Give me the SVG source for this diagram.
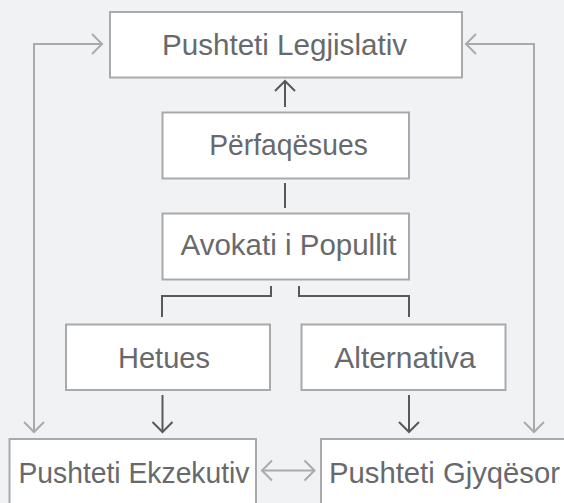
<svg xmlns="http://www.w3.org/2000/svg" width="564" height="503" viewBox="0 0 564 503">
  <defs>
    <style>
      .box { fill: #ffffff; stroke: #a9aaac; stroke-width: 2; }
      .lbl { font-family: "Liberation Sans", Arial, sans-serif; font-size: 30px; fill: #68696c; text-anchor: middle; }
      .dark { fill: none; stroke: #58595b; stroke-width: 2; }
      .light { fill: none; stroke: #a9aaac; stroke-width: 2; }
    </style>
    <marker id="chev-dark" viewBox="-12 -12 14 24" markerWidth="14" markerHeight="24" refX="0" refY="0" orient="auto-start-reverse" markerUnits="userSpaceOnUse">
      <path d="M-10,-10 L0,0 L-10,10" fill="none" stroke="#58595b" stroke-width="2"/>
    </marker>
    <marker id="chev-light" viewBox="-12 -12 14 24" markerWidth="14" markerHeight="24" refX="0" refY="0" orient="auto-start-reverse" markerUnits="userSpaceOnUse">
      <path d="M-10,-10 L0,0 L-10,10" fill="none" stroke="#a9aaac" stroke-width="2"/>
    </marker>
  </defs>

  <rect width="564" height="503" fill="#f1f2f4"/>

  <g id="connectors">
    <!-- Përfaqësues up to the legislature -->
    <line class="dark" x1="285" y1="107" x2="285" y2="81" marker-end="url(#chev-dark)"/>
    <line class="dark" x1="285" y1="183" x2="285" y2="208"/>
    <!-- split below Avokati i Popullit -->
    <polyline class="dark" points="271,286 271,296 162,296 162,317"/>
    <polyline class="dark" points="299,286 299,296 409,296 409,317"/>
    <line class="dark" x1="162.5" y1="395" x2="162.5" y2="432" marker-end="url(#chev-dark)"/>
    <line class="dark" x1="409" y1="395" x2="409" y2="432" marker-end="url(#chev-dark)"/>
    <!-- outer loops between the branches -->
    <polyline class="light" points="102,44 34,44 34,432" marker-start="url(#chev-light)" marker-end="url(#chev-light)"/>
    <polyline class="light" points="466,44 534,44 534,432" marker-start="url(#chev-light)" marker-end="url(#chev-light)"/>
    <line class="light" x1="262" y1="470.5" x2="314.5" y2="470.5" marker-start="url(#chev-light)" marker-end="url(#chev-light)"/>
  </g>

  <g id="legjislativ">
    <rect class="box" x="110" y="12" width="352" height="65.5"/>
    <text class="lbl" x="284.5" y="54.5" textLength="245" lengthAdjust="spacingAndGlyphs">Pushteti Legjislativ</text>
  </g>
  <g id="perfaqesues">
    <rect class="box" x="162.5" y="112.5" width="246.5" height="66"/>
    <text class="lbl" x="288.5" y="155" textLength="158.5" lengthAdjust="spacingAndGlyphs">Përfaqësues</text>
  </g>
  <g id="avokati">
    <rect class="box" x="162.5" y="213.5" width="246.5" height="66"/>
    <text class="lbl" x="288.5" y="255" textLength="216" lengthAdjust="spacingAndGlyphs">Avokati i Popullit</text>
  </g>
  <g id="hetues">
    <rect class="box" x="66" y="324.5" width="204" height="65.5"/>
    <text class="lbl" x="164" y="367.5" textLength="92" lengthAdjust="spacingAndGlyphs">Hetues</text>
  </g>
  <g id="alternativa">
    <rect class="box" x="301.5" y="324.5" width="204" height="65.5"/>
    <text class="lbl" x="405" y="367.5" textLength="141.5" lengthAdjust="spacingAndGlyphs">Alternativa</text>
  </g>
  <g id="ekzekutiv">
    <rect class="box" x="9.5" y="439" width="246.5" height="72"/>
    <text class="lbl" x="134" y="482.5" textLength="231" lengthAdjust="spacingAndGlyphs">Pushteti Ekzekutiv</text>
  </g>
  <g id="gjyqesor">
    <rect class="box" x="321" y="439" width="252" height="72"/>
    <text class="lbl" x="444.5" y="482.5" textLength="231" lengthAdjust="spacingAndGlyphs">Pushteti Gjyqësor</text>
  </g>
</svg>
